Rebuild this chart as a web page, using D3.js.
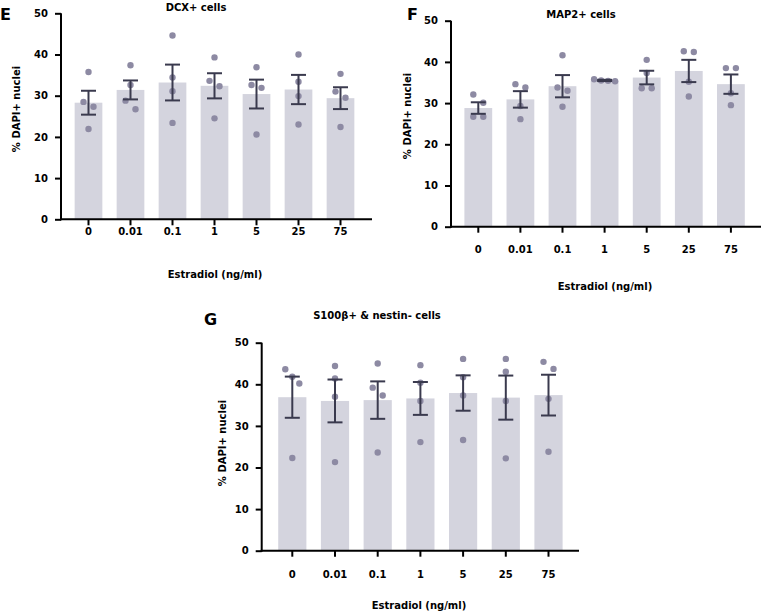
<!DOCTYPE html>
<html><head><meta charset="utf-8">
<script src="https://cdn.jsdelivr.net/npm/d3@7"></script>
<style>
body{margin:0;background:#fff}
svg{display:block}
text{font-family:"DejaVu Sans",sans-serif;font-weight:bold;fill:#000}
</style>
</head><body><svg id="c" width="761" height="612"></svg>
<script>
// ---------- data ----------
const doses = ["0", "0.01", "0.1", "1", "5", "25", "75"];
const yTicks = [0, 10, 20, 30, 40, 50];

const dcxMean = [28.3, 31.4, 33.2, 32.4, 30.4, 31.5, 29.4];
const dcxSem  = [2.9, 2.3, 4.35, 3.05, 3.5, 3.55, 2.65];
const dcxPoints = [
  [35.75, 28.5, 27.3, 21.9], [37.4, 32.6, 28.8, 26.7], [44.6, 34.4, 31.1, 23.4],
  [39.3, 33.6, 32.3, 24.5], [36.9, 32.6, 31.9, 20.6], [40.0, 33.4, 29.9, 23.0],
  [35.3, 31.0, 29.5, 22.4]
];

const map2Mean = [28.8, 30.9, 34.1, 35.5, 36.2, 37.8, 34.6];
const map2Sem  = [1.4, 2.0, 2.7, 0.15, 1.65, 2.7, 2.35];
const map2Points = [
  [32.1, 30.1, 26.7, 26.7], [34.6, 33.8, 29.3, 26.1], [41.6, 33.8, 33.0, 29.1],
  [35.8, 35.5, 35.3, 35.4], [40.5, 37.3, 33.6, 33.6], [42.6, 42.4, 35.2, 31.6],
  [38.5, 38.5, 32.4, 29.5]
];

const s100Mean = [36.9, 36.0, 36.2, 36.6, 37.9, 36.8, 37.4];
const s100Sem  = [4.95, 5.15, 4.5, 3.95, 4.25, 5.3, 4.9];
const s100Points = [
  [43.6, 41.8, 40.2, 22.3], [44.4, 41.4, 37.0, 21.3], [45.0, 39.2, 37.3, 23.6],
  [44.6, 40.4, 36.0, 26.1], [46.1, 41.7, 37.3, 26.6], [46.1, 43.0, 36.0, 22.2],
  [45.4, 43.7, 36.5, 23.8]
];

const panelLetters = ["E", "F", "G"];
const panelTitles = ["DCX+ cells", "MAP2+ cells", "S100\u03B2+ & nestin- cells"];
const xAxisTitle = "Estradiol (ng/ml)";
const yAxisTitle = "% DAPI+ nuclei";

// ---------- layout ----------
const layouts = [
  {axX: 61, axEnd: 372, yBot: 219.3, yTop: 13.3, c0: 88.5, step: 42.0, tickPad: 3,
   letter: [0, 20], title: [196, 11], xlab: [215, 278], ylab: [20, 109]},
  {axX: 451, axEnd: 761, yBot: 226.7, yTop: 20.7, c0: 478.3, step: 42.1, tickPad: 13,
   letter: [407, 20], title: [581, 18], xlab: [605, 290], ylab: [411, 116]},
  {axX: 261.7, axEnd: 579, yBot: 550.7, yTop: 342.7, c0: 292.3, step: 42.7, tickPad: 14,
   letter: [204, 325], title: [377, 319], xlab: [419, 609], ylab: [226, 443]}
];
const datasets = [
  {mean: dcxMean, sem: dcxSem, pts: dcxPoints},
  {mean: map2Mean, sem: map2Sem, pts: map2Points},
  {mean: s100Mean, sem: s100Sem, pts: s100Points}
];

const barFill = "#d4d4de", dotFill = "#8d8aa3", errCol = "#3a3a4e";
const svg = d3.select("#c");

function swarm(values, y) {
  // cluster points close in pixel space, spread symmetric horizontally
  const items = values.map(v => ({v, py: y(v), dx: 0})).sort((a, b) => b.v - a.v);
  const clusters = [];
  let cur = [items[0]];
  for (let i = 1; i < items.length; i++) {
    if (Math.abs(items[i].py - items[i - 1].py) < 9) cur.push(items[i]);
    else { clusters.push(cur); cur = [items[i]]; }
  }
  clusters.push(cur);
  clusters.forEach(cl => {
    const n = cl.length, sp = n === 2 ? 10 : 7;
    cl.forEach((it, k) => it.dx = (k - (n - 1) / 2) * sp);
  });
  return items;
}

layouts.forEach((L, pi) => {
  const D = datasets[pi];
  const g = svg.append("g");
  const y = d3.scaleLinear().domain([0, 50]).range([L.yBot, L.yTop]);
  const x = d3.scaleBand().domain(doses)
    .range([L.c0 - L.step / 2, L.c0 - L.step / 2 + 7 * L.step])
    .paddingInner(0.34).paddingOuter(0.17);
  const bw = x.bandwidth();
  const cx = d => x(d) + bw / 2;

  // bars
  g.selectAll("rect.bar").data(doses).join("rect")
    .attr("x", d => x(d)).attr("width", bw)
    .attr("y", (d, i) => y(D.mean[i])).attr("height", (d, i) => y(0) - y(D.mean[i]))
    .attr("fill", barFill);

  // points
  doses.forEach((d, i) => {
    const items = swarm(D.pts[i], y);
    g.selectAll(null).data(items).join("circle")
      .attr("cx", it => cx(d) + it.dx).attr("cy", it => y(it.v))
      .attr("r", 3.2).attr("fill", dotFill);
  });

  // error bars
  doses.forEach((d, i) => {
    const lo = y(D.mean[i] - D.sem[i]), hi = y(D.mean[i] + D.sem[i]), c = cx(d);
    const e = g.append("g").attr("stroke", errCol).attr("stroke-width", 2).attr("fill", "none");
    e.append("line").attr("x1", c).attr("x2", c).attr("y1", lo).attr("y2", hi);
    e.append("line").attr("x1", c - 7.5).attr("x2", c + 7.5).attr("y1", lo).attr("y2", lo);
    e.append("line").attr("x1", c - 7.5).attr("x2", c + 7.5).attr("y1", hi).attr("y2", hi);
  });

  // y axis
  const ya = g.append("g").attr("transform", `translate(${L.axX},0)`)
    .call(d3.axisLeft(y).tickValues(yTicks).tickSize(6).tickSizeOuter(0).tickPadding(7));
  ya.selectAll("path,line").attr("stroke", "#000").attr("stroke-width", 2);
  ya.select(".domain").attr("d", `M0,${L.yBot + 1}V${L.yTop}`);
  ya.selectAll("text").attr("font-size", 10).style("font-family", '"DejaVu Sans",sans-serif').style("font-weight", "bold");

  // x axis
  const xa = g.append("g").attr("transform", `translate(0,${L.yBot})`)
    .call(d3.axisBottom(x).tickSize(6).tickSizeOuter(0).tickPadding(L.tickPad));
  xa.select(".domain").attr("d", `M${L.axX - 1},0H${L.axEnd}`);
  xa.selectAll("path,line").attr("stroke", "#000").attr("stroke-width", 2);
  xa.selectAll("text").attr("font-size", 10).style("font-family", '"DejaVu Sans",sans-serif').style("font-weight", "bold");

  // texts
  g.append("text").attr("x", L.letter[0]).attr("y", L.letter[1]).attr("font-size", 16).text(panelLetters[pi]);
  g.append("text").attr("x", L.title[0]).attr("y", L.title[1]).attr("font-size", 10)
    .attr("text-anchor", "middle").text(panelTitles[pi]);
  g.append("text").attr("x", L.xlab[0]).attr("y", L.xlab[1]).attr("font-size", 10)
    .attr("text-anchor", "middle").text(xAxisTitle);
  g.append("text").attr("transform", `translate(${L.ylab[0]},${L.ylab[1]}) rotate(-90)`)
    .attr("font-size", 10).attr("text-anchor", "middle").text(yAxisTitle);
});
</script>
</body></html>
